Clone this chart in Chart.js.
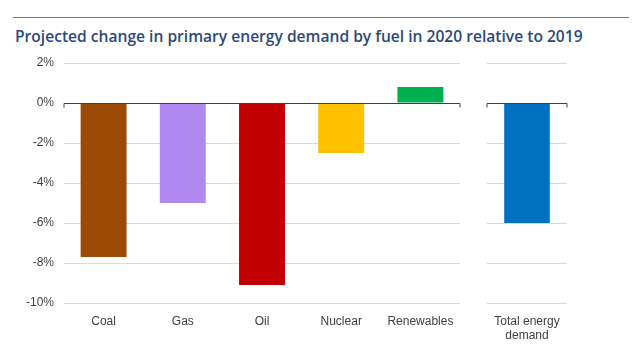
<!DOCTYPE html>
<html>
<head>
<meta charset="utf-8">
<script src="https://cdn.jsdelivr.net/npm/chart.js@4"></script>
<style>
  html, body { margin:0; padding:0; background:#fff; }
  #wrap { position:relative; width:640px; height:357px; overflow:hidden; }
  #rule { position:absolute; left:13px; top:17px; width:616px; height:1px; background:#5f7a9c; }
  #title { position:absolute; left:15px; top:25px; font-family:"Open Sans", sans-serif; font-weight:600; font-size:15.6px; color:#2b4a7c; white-space:nowrap; }
  canvas { position:absolute; left:0; top:0; }
</style>
</head>
<body>
<div id="wrap">
  <div id="rule"></div>
  <div id="title">Projected change in primary energy demand by fuel in 2020 relative to 2019</div>
  <canvas id="c1" width="640" height="357"></canvas>
  <canvas id="c2" width="640" height="357"></canvas>
</div>
<script>
const fuelCategories = ["Coal", "Gas", "Oil", "Nuclear", "Renewables"];
const fuelValues = [-7.7, -5.0, -9.1, -2.5, 0.8];
const fuelColors = ["#9c4a06", "#b088f0", "#c00000", "#ffc000", "#00b050"];
const totalCategories = [["Total energy", "demand"]];
const totalValues = [-6.0];
const totalColors = ["#0070c0"];
const yMin = -10, yMax = 2, yStep = 2;

const tickFont = { family: "'Liberation Sans', Arial, sans-serif", size: 12 };
const tickColor = "#404040";

const zeroLinePlugin = {
  id: "zeroLine",
  afterDatasetsDraw(chart) {
    const { ctx, chartArea } = chart;
    const y = Math.round(chart.scales.y.getPixelForValue(0)) + 0.5;
    ctx.save();
    ctx.strokeStyle = "#404040";
    ctx.lineWidth = 1;
    ctx.beginPath();
    ctx.moveTo(chartArea.left, y + 4);
    ctx.lineTo(chartArea.left, y);
    ctx.lineTo(chartArea.right, y);
    ctx.lineTo(chartArea.right, y + 4);
    ctx.stroke();
    ctx.restore();
  }
};

function makeOptions(showY, padding) {
  return {
    responsive: false,
    animation: false,
    maintainAspectRatio: false,
    layout: { padding },
    plugins: { legend: { display: false }, tooltip: { enabled: false } },
    scales: {
      x: {
        grid: { display: false, drawTicks: false },
        border: { display: false },
        ticks: { color: tickColor, font: tickFont, padding: 11, maxRotation: 0, autoSkip: false },
        afterFit(s) { s.height = 46; }
      },
      y: {
        min: yMin, max: yMax,
        grid: { color: "#d9d9d9", drawTicks: false, lineWidth: 1 },
        border: { display: false },
        ticks: {
          display: showY, stepSize: yStep, color: tickColor, font: tickFont, padding: 10,
          callback: v => v + "%"
        },
        afterFit(s) { s.width = showY ? 64 : 0; }
      }
    }
  };
}

new Chart(document.getElementById("c1"), {
  type: "bar",
  data: {
    labels: fuelCategories,
    datasets: [{ data: fuelValues, backgroundColor: fuelColors, categoryPercentage: 1, barPercentage: 0.58 }]
  },
  options: makeOptions(true, { top: 63, bottom: 8, left: 0, right: 180 }),
  plugins: [zeroLinePlugin]
});

new Chart(document.getElementById("c2"), {
  type: "bar",
  data: {
    labels: totalCategories,
    datasets: [{ data: totalValues, backgroundColor: totalColors, categoryPercentage: 1, barPercentage: 0.57 }]
  },
  options: makeOptions(false, { top: 63, bottom: 8, left: 487, right: 73 }),
  plugins: [zeroLinePlugin]
});
</script>
</body>
</html>
